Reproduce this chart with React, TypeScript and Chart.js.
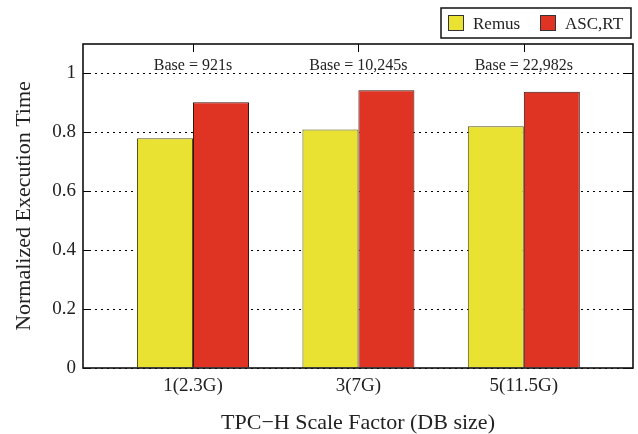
import React, { useEffect, useRef } from "react";
import { Chart, registerables } from "chart.js";

Chart.register(...registerables);

const categories = ["1(2.3G)", "3(7G)", "5(11.5G)"];
const seriesNames = ["Remus", "ASC,RT"];
const remusValues = [0.78, 0.81, 0.821];
const ascValues = [0.902, 0.943, 0.938];
const baseLabels = ["Base = 921s", "Base = 10,245s", "Base = 22,982s"];
const yTickValues = [0, 0.2, 0.4, 0.6, 0.8, 1];
const xRange = [-0.665, 2.66];

const SERIF = '"Liberation Serif", "Times New Roman", serif';
const YELLOW = "#EAE232";
const RED = "#DF3324";

const framePlugin = {
  id: "framePlugin",
  afterDraw(chart: any) {
    const { ctx, chartArea } = chart;
    const { left, right, top, bottom } = chartArea;
    const x = chart.scales.x;
    const y = chart.scales.y;
    ctx.save();
    ctx.strokeStyle = "#000";
    ctx.lineWidth = 1;
    ctx.setLineDash([]);
    yTickValues.forEach((v) => {
      const py = Math.round(y.getPixelForValue(v)) + 0.5;
      ctx.beginPath();
      ctx.moveTo(left, py);
      ctx.lineTo(left + 8, py);
      ctx.moveTo(right, py);
      ctx.lineTo(right - 8, py);
      ctx.stroke();
    });
    categories.forEach((_, i) => {
      const px = Math.round(x.getPixelForValue(i)) + 0.5;
      ctx.beginPath();
      ctx.moveTo(px, top);
      ctx.lineTo(px, top + 8);
      ctx.stroke();
    });
    ctx.lineWidth = 1.6;
    ctx.strokeStyle = "#111";
    ctx.strokeRect(left, top, right - left, bottom - top);
    ctx.fillStyle = "#222";
    ctx.font = `16px ${SERIF}`;
    ctx.textAlign = "center";
    ctx.textBaseline = "alphabetic";
    baseLabels.forEach((t, i) => {
      ctx.fillText(t, x.getPixelForValue(i), top + 26);
    });
    ctx.lineWidth = 1.5;
    ctx.strokeStyle = "#111";
    ctx.strokeRect(441, 8, 190, 30);
    const colors = [YELLOW, RED];
    const swX = [448, 540];
    ctx.font = `17px ${SERIF}`;
    ctx.textAlign = "left";
    seriesNames.forEach((name, i) => {
      ctx.fillStyle = colors[i];
      ctx.fillRect(swX[i], 15, 15, 15);
      ctx.lineWidth = 1;
      ctx.strokeStyle = "#333";
      ctx.strokeRect(swX[i] + 0.5, 15.5, 15, 15);
      ctx.fillStyle = "#222";
      ctx.fillText(name, swX[i] + 25, 29);
    });
    ctx.restore();
  },
};

export default function App() {
  const ref = useRef<HTMLCanvasElement | null>(null);
  useEffect(() => {
    if (!ref.current) return;
    const chart = new Chart(ref.current, {
      type: "bar",
      data: {
        datasets: [
          {
            label: seriesNames[0],
            data: remusValues.map((v, i) => ({ x: i, y: v })),
            backgroundColor: YELLOW,
            borderColor: "#55551a",
            borderWidth: 1,
          },
          {
            label: seriesNames[1],
            data: ascValues.map((v, i) => ({ x: i, y: v })),
            backgroundColor: RED,
            borderColor: "#3a1410",
            borderWidth: 1,
          },
        ],
      },
      options: {
        responsive: false,
        animation: false,
        layout: { padding: { top: 44, right: 5, left: 0, bottom: 0 } },
        datasets: { bar: { categoryPercentage: 0.677, barPercentage: 1 } },
        plugins: { legend: { display: false }, tooltip: { enabled: false } },
        scales: {
          x: {
            type: "linear",
            min: xRange[0],
            max: xRange[1],
            offset: false,
            grid: { display: false, drawTicks: false },
            border: { display: false },
            afterBuildTicks(scale: any) {
              scale.ticks = categories.map((_, i) => ({ value: i }));
            },
            ticks: {
              color: "#222",
              font: { family: SERIF, size: 19 },
              padding: 7,
              maxRotation: 0,
              autoSkip: false,
              callback: (v: any) => categories[Math.round(Number(v))] ?? "",
            },
            title: {
              display: true,
              text: "TPC\u2212H Scale Factor (DB size)",
              color: "#222",
              font: { family: SERIF, size: 22, lineHeight: 1.0 },
              padding: { top: 0, bottom: 0 },
            },
            afterFit(scale: any) {
              scale.height = 66;
            },
          },
          y: {
            min: 0,
            max: 1.1,
            ticks: {
              stepSize: 0.2,
              color: "#222",
              font: { family: SERIF, size: 19 },
              padding: 7,
              callback: (v: any) => String(Math.round(Number(v) * 10) / 10),
            },
            afterBuildTicks(scale: any) {
              scale.ticks = yTickValues.map((v) => ({ value: v }));
            },
            grid: { color: "#000", lineWidth: 1, drawTicks: false },
            border: { display: false, dash: [2, 4] },
            title: {
              display: true,
              text: "Normalized Execution Time",
              color: "#222",
              font: { family: SERIF, size: 22 },
              padding: { top: 11, bottom: 0 },
            },
            afterFit(scale: any) {
              scale.width = 83;
            },
          },
        },
      },
      plugins: [framePlugin],
    } as any);
    return () => chart.destroy();
  }, []);
  return (
    <div style={{ position: "absolute", left: 0, top: 0, width: 638, height: 434 }}>
      <canvas ref={ref} width={638} height={434} style={{ display: "block" }} />
    </div>
  );
}
